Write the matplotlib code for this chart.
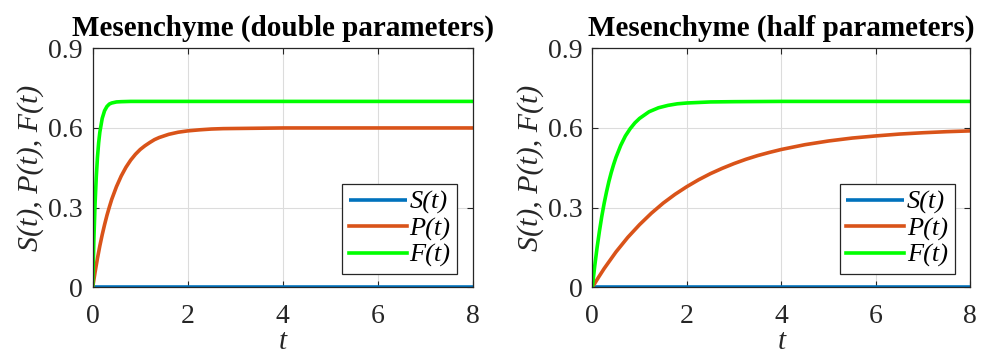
import matplotlib
matplotlib.use("Agg")
import matplotlib.pyplot as plt

plt.rcParams["font.family"] = ["Liberation Serif", "DejaVu Serif"]

# Trajectories of the mesenchyme model (values sampled from the solution)
t_F_double = [0, 0.025, 0.05, 0.075, 0.1, 0.125, 0.15, 0.2, 0.25, 0.3, 0.35, 0.4, 0.5, 0.6, 0.8, 8]
F_double = [0, 0.181, 0.316, 0.415, 0.489, 0.544, 0.584, 0.636, 0.665, 0.681, 0.690, 0.694, 0.698, 0.699, 0.7, 0.7]

t_P_double = [0, 0.05, 0.1, 0.15, 0.2, 0.25, 0.3, 0.35, 0.4, 0.5, 0.6, 0.7, 0.8, 0.9, 1.0, 1.1, 1.2, 1.3,
              1.4, 1.6, 1.8, 2.0, 2.25, 2.5, 2.75, 3.0, 3.5, 4.0, 8]
P_double = [0, 0.057, 0.109, 0.156, 0.198, 0.236, 0.271, 0.302, 0.331, 0.379, 0.419, 0.452, 0.479, 0.501,
            0.519, 0.533, 0.545, 0.556, 0.564, 0.576, 0.584, 0.589, 0.593, 0.596, 0.5975, 0.598, 0.599,
            0.600, 0.600]

t_F_half = [0, 0.05, 0.1, 0.15, 0.2, 0.25, 0.3, 0.35, 0.4, 0.45, 0.5, 0.6, 0.7, 0.8, 0.9, 1.0, 1.2, 1.4,
            1.6, 1.8, 2.0, 2.5, 3.0, 4.0, 8]
F_half = [0, 0.079, 0.149, 0.211, 0.267, 0.316, 0.359, 0.398, 0.432, 0.462, 0.489, 0.534, 0.570, 0.597,
          0.619, 0.636, 0.661, 0.676, 0.685, 0.691, 0.694, 0.698, 0.699, 0.7, 0.7]

t_P_half = [0, 0.125, 0.25, 0.5, 0.75, 1.0, 1.25, 1.5, 1.75, 2.0, 2.25, 2.5, 2.75, 3.0, 3.25, 3.5, 3.75,
            4.0, 4.5, 5.0, 5.5, 6.0, 6.5, 7.0, 7.5, 8.0]
P_half = [0, 0.036, 0.0705, 0.133, 0.188, 0.236, 0.279, 0.317, 0.350, 0.379, 0.405, 0.428, 0.448, 0.466,
          0.482, 0.496, 0.508, 0.519, 0.537, 0.551, 0.562, 0.570, 0.577, 0.582, 0.586, 0.589]

t_S = [0, 8]
S_vals = [0, 0]

titles = ["Mesenchyme (double parameters)", "Mesenchyme (half parameters)"]
x_ticks = [0, 2, 4, 6, 8]
y_ticks = [0, 0.3, 0.6, 0.9]
y_tick_labels = ["0", "0.3", "0.6", "0.9"]
labels = ["S(t)", "P(t)", "F(t)"]

c_S = "#0072BD"
c_P = "#D95319"
c_F = "#00FF00"

fig = plt.figure(figsize=(9.81, 3.58), dpi=100)
ax1 = fig.add_axes([0.0945, 0.1975, 0.3874, 0.6676])
ax2 = fig.add_axes([0.6038, 0.1975, 0.3853, 0.6676])

panels = [
    (ax1, titles[0], t_P_double, P_double, t_F_double, F_double),
    (ax2, titles[1], t_P_half, P_half, t_F_half, F_half),
]

for ax, title, tp, p, tf, f in panels:
    ax.plot(t_S, S_vals, color=c_S, lw=2.6, label=labels[0], solid_capstyle="butt")
    ax.plot(tp, p, color=c_P, lw=2.6, label=labels[1])
    ax.plot(tf, f, color=c_F, lw=2.6, label=labels[2])
    ax.set_xlim(0, 8)
    ax.set_ylim(0, 0.9)
    ax.set_xticks(x_ticks)
    ax.set_yticks(y_ticks)
    ax.set_yticklabels(y_tick_labels)
    ax.grid(True, color="#dcdcdc", lw=0.8)
    ax.set_axisbelow(True)
    ax.tick_params(direction="in", top=True, right=True, length=4, width=0.8,
                   colors="#262626", labelsize=20)
    ax.tick_params(axis="x", pad=12)
    ax.tick_params(axis="y", pad=7)
    for sp in ax.spines.values():
        sp.set_color("#262626")
        sp.set_linewidth(0.9)
    ax.set_title(title, fontsize=21, fontweight="bold", pad=9)
    ax.set_xlabel("t", fontsize=21, fontstyle="italic", color="#262626", labelpad=0)
    ax.set_ylabel("S(t), P(t), F(t)", fontsize=21.5, fontstyle="italic", color="#262626", labelpad=3)
    leg = ax.legend(loc="lower right", bbox_to_anchor=(0.9586, 0.0556), borderaxespad=0,
                    fancybox=False, framealpha=1, edgecolor="#262626",
                    prop={"style": "italic", "size": 19}, handlelength=2.2,
                    handletextpad=0.1, labelspacing=0.1, borderpad=0.25)
    leg.get_frame().set_linewidth(0.9)

fig.savefig("out.png", dpi=100)
